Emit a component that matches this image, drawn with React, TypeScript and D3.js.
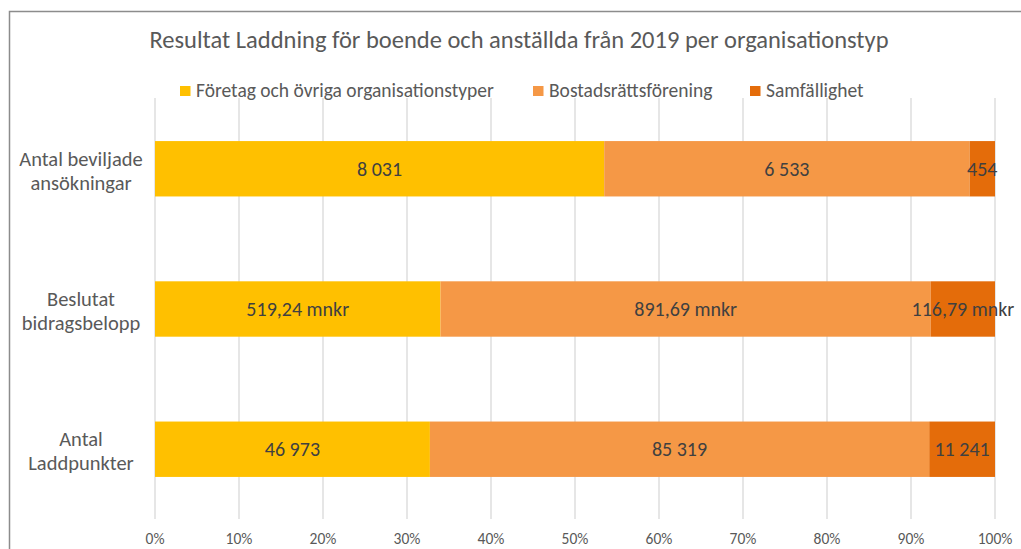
import React from "react";
import * as d3 from "d3";

const title = "Resultat Laddning för boende och anställda från 2019 per organisationstyp";
const categories = ["Antal beviljade ansökningar", "Beslutat bidragsbelopp", "Antal Laddpunkter"];
const categoryLines = [["Antal beviljade", "ansökningar"], ["Beslutat", "bidragsbelopp"], ["Antal", "Laddpunkter"]];
const seriesNames = ["Företag och övriga organisationstyper", "Bostadsrättsförening", "Samfällighet"];
const foretag = [8031, 519.24, 46973];
const bostad = [6533, 891.69, 85319];
const samf = [454, 116.79, 11241];
const labelForetag = ["8 031", "519,24 mnkr", "46 973"];
const labelBostad = ["6 533", "891,69 mnkr", "85 319"];
const labelSamf = ["454", "116,79 mnkr", "11 241"];
const ticks = [0, 0.1, 0.2, 0.3, 0.4, 0.5, 0.6, 0.7, 0.8, 0.9, 1];
const colors = ["#FFC000", "#F59846", "#E46C0A"];

const font = "Carlito, Calibri, Lato, sans-serif";

export default function App() {
  const W = 1021, H = 549;
  const x = d3.scaleLinear().domain([0, 1]).range([155, 995]);
  const y = d3.scaleBand<string>().domain(categories).range([99, 519]).paddingInner(0.605).paddingOuter(0.3);
  const labels = [labelForetag, labelBostad, labelSamf];
  const stackData = categories.map((c, i) => ({ cat: c, a: foretag[i], b: bostad[i], c2: samf[i] }));
  const stack = d3.stack<any>().keys(["a", "b", "c2"]).offset(d3.stackOffsetExpand);
  const stacked = stack(stackData);
  const legendX = [180, 533, 750];
  return (
    <svg width={W} height={H} style={{ position: "absolute", left: 0, top: 0, background: "#fff" }}>
      <rect x={0} y={0} width={W} height={H} fill="#fff" />
      <path d={`M9.5,${H} V11.5 H${W}`} fill="none" stroke="#8c8c8c" strokeWidth={1.5} />
      <text x={519} y={48} textAnchor="middle" fontFamily={font} fontSize={24.5} fill="#595959">{title}</text>
      {seriesNames.map((s, i) => (
        <g key={s}>
          <rect x={legendX[i]} y={86} width={10.5} height={10} fill={colors[i]} />
          <text x={legendX[i] + 16} y={97} fontFamily={font} fontSize={19.5} fill="#595959">{s}</text>
        </g>
      ))}
      {ticks.map((t) => (
        <g key={t}>
          <line x1={x(t)} x2={x(t)} y1={98} y2={519} stroke="#d9d9d9" strokeWidth={1.3} />
          <text x={x(t)} y={544} textAnchor="middle" fontFamily={font} fontSize={15.5} fill="#595959">{d3.format(".0%")(t)}</text>
        </g>
      ))}
      {stacked.map((layer, si) =>
        layer.map((d, ci) => {
          const cat = categories[ci];
          const y0 = y(cat)!;
          return (
            <rect key={`${si}-${ci}`} x={x(d[0])} y={y0} width={x(d[1]) - x(d[0])} height={y.bandwidth()} fill={colors[si]} />
          );
        })
      )}
      {stacked.map((layer, si) =>
        layer.map((d, ci) => {
          const cat = categories[ci];
          const cy = y(cat)! + y.bandwidth() / 2;
          return (
            <text key={`l${si}-${ci}`} x={(x(d[0]) + x(d[1])) / 2} y={cy + 7} textAnchor="middle" fontFamily={font} fontSize={20} fill="#404040">
              {labels[si][ci]}
            </text>
          );
        })
      )}
      {categories.map((c, i) => {
        const cy = y(c)! + y.bandwidth() / 2;
        return (
          <text key={c} x={81} textAnchor="middle" fontFamily={font} fontSize={20.5} fill="#595959">
            <tspan x={81} y={cy - 3}>{categoryLines[i][0]}</tspan>
            <tspan x={81} y={cy + 21}>{categoryLines[i][1]}</tspan>
          </text>
        );
      })}
    </svg>
  );
}
